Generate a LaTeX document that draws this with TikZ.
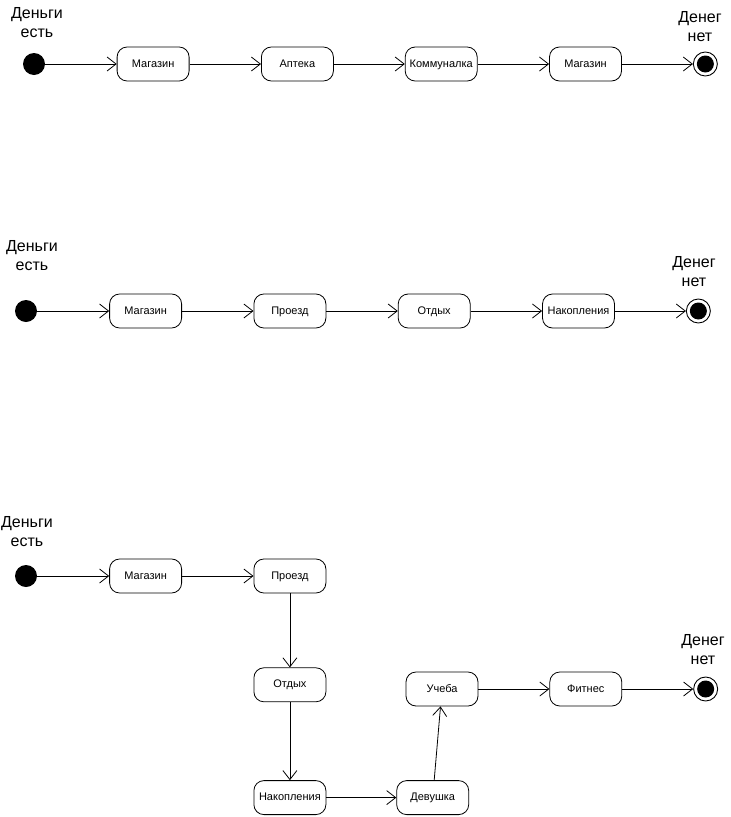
\documentclass[tikz,border=0pt]{standalone}
\usepackage{fontspec}
\setmainfont{Liberation Sans}
\usetikzlibrary{arrows.meta,positioning}

\begin{document}
\begin{tikzpicture}[x=1pt,y=-1pt,
        start/.style={circle,fill=black,minimum size=22pt,inner sep=0pt},
        stop/.style={circle,draw,line width=0.9pt,minimum size=24pt,inner sep=0pt,
                     path picture={\fill[black] (path picture bounding box.center) circle (8.5pt);}},
        act/.style={draw,line width=0.8pt,rounded corners=10pt,
                    minimum width=72pt,minimum height=34pt,inner sep=2pt,
                    text height=8pt,text depth=2pt,
                    align=center,font=\fontsize{11}{12}\selectfont},
        lbl/.style={align=center,font=\fontsize{16}{19}\selectfont},
        a/.style={-{Straight Barb[length=9pt,width=14pt]},line width=0.8pt}
      ]
        \useasboundingbox (0,0) rectangle (731,817);

        % first day
        \node[lbl] at (37,23) (t1) {Деньги\\есть};
        \node[lbl] at (700,27) (b1) {Денег\\нет};
        \node[start] (s1) at (34,64) {};
        \node[act, right=71.5pt of s1] (m1) {Магазин};
        \node[act, right=71.5pt of m1] (ap1) {Аптека};
        \node[act, right=71pt of ap1] (k1) {Коммуналка};
        \node[act, right=71.5pt of k1] (m1b) {Магазин};
        \node[stop, right=71pt of m1b] (e1) {};

        \draw[a] (s1)--(m1);
        \draw[a] (m1)--(ap1);
        \draw[a] (ap1)--(k1);
        \draw[a] (k1)--(m1b);
        \draw[a] (m1b)--(e1);

        % second day
        \node[lbl] at (32,256) (t2) {Деньги\\есть};
        \node[lbl] at (694,272) (b2) {Денег\\нет};
        \node[start] (s2) at (26,311) {};
        \node[act, right=72pt of s2] (m2) {Магазин};
        \node[act, right=71.5pt of m2] (p2) {Проезд};
        \node[act, right=71.5pt of p2] (o2) {Отдых};
        \node[act, right=71.5pt of o2] (n2) {Накопления};
        \node[stop, right=71pt of n2] (e2) {};

        \draw[a] (s2)--(m2);
        \draw[a] (m2)--(p2);
        \draw[a] (p2)--(o2);
        \draw[a] (o2)--(n2);
        \draw[a] (n2)--(e2);

        % third day
        \node[lbl] at (27,532) (t3) {Деньги\\есть};
        \node[lbl] at (703,650) (b3) {Денег\\нет};
        \node[start] (s3) at (26,576) {};
        \node[act, right=72pt of s3] (m3) {Магазин};
        \node[act, right=71.5pt of m3] (p3) {Проезд};
        \node[act, below=74pt of p3] (o3) {Отдых};
        \node[act, below=78pt of o3] (n3) {Накопления};
        \node[act, right=70pt of n3] (d3) {Девушка};
        \node[act] (u3) at (442,689) {Учеба};
        \node[act, right=71pt of u3] (f3) {Фитнес};
        \node[stop, right=71pt of f3] (e3) {};

        \draw[a] (s3)--(m3);
        \draw[a] (m3)--(p3);
        \draw[a] (p3)--(o3);
        \draw[a] (o3)--(n3);
        \draw[a] (n3)--(d3);
        \draw[a] (d3)--(u3);
        \draw[a] (u3)--(f3);
        \draw[a] (f3)--(e3);
      \end{tikzpicture}
\end{document}
